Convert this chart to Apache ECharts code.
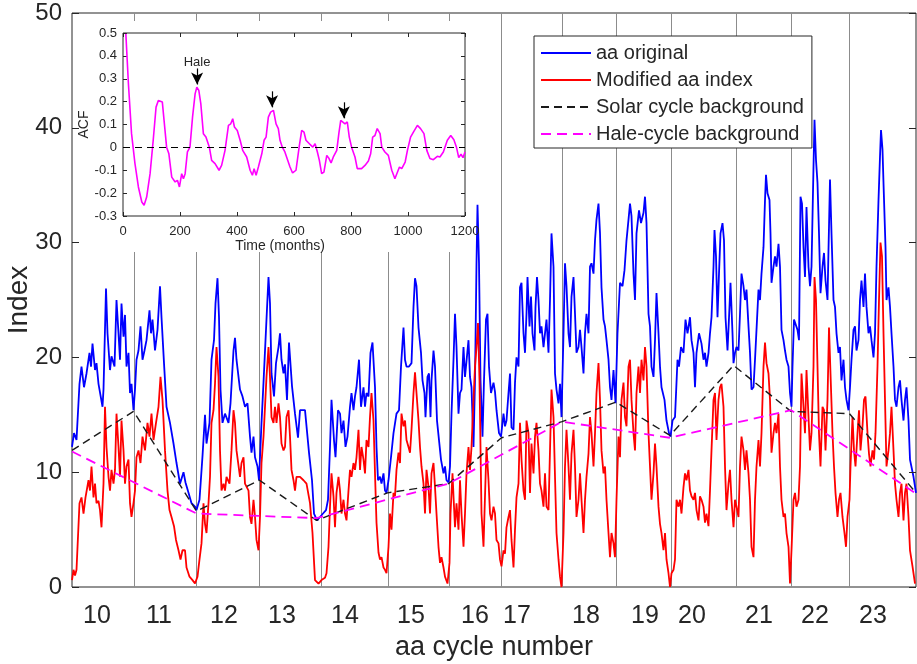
<!DOCTYPE html>
<html>
<head>
<meta charset="utf-8">
<script src="https://cdn.jsdelivr.net/npm/echarts@6.0.0/dist/echarts.min.js"></script>
<style>
  html, body { margin: 0; padding: 0; background: #fff; }
  #chart { width: 917px; height: 664px; }
</style>
</head>
<body>
<div id="chart"></div>
<script>
// x = months since the start of the record, y = index value
const aaOriginal = [[0,12.2],[4,13.4],[9,12.8],[15,17.7],[19,19.2],[24,17.4],[29,18.6],[35,20.4],[38,19.2],[41,21.2],[46,18.9],[49,19.5],[53,17.7],[57,17.7],[61,15.7],[63,17.2],[68,26.0],[71,22.1],[76,18.9],[79,20.1],[85,19.2],[89,25.0],[93,22.1],[96,19.8],[99,24.7],[103,21.8],[106,23.7],[109,19.2],[113,20.4],[116,16.9],[119,17.7],[123,15.4],[126,17.2],[129,19.8],[133,20.6],[137,22.7],[141,19.8],[145,20.6],[149,21.5],[155,24.1],[158,22.1],[161,23.3],[166,20.6],[171,22.4],[176,26.2],[179,23.5],[184,19.5],[189,15.7],[196,14.3],[203,12.5],[209,10.8],[216,9.0],[223,10.0],[227,9.1],[233,8.2],[239,7.3],[246,7.0],[249,6.7],[255,7.6],[261,11.4],[266,15.0],[269,12.5],[275,14.3],[279,19.8],[284,21.5],[287,24.7],[291,26.9],[294,23.5],[297,17.2],[301,14.3],[306,15.1],[313,14.3],[317,16.0],[323,20.6],[326,21.7],[329,19.8],[336,17.2],[341,16.6],[346,15.7],[351,16.0],[356,13.1],[359,11.7],[363,13.1],[366,11.3],[371,10.5],[374,9.3],[379,14.3],[383,17.8],[387,17.8],[393,27.0],[396,24.7],[399,18.6],[404,16.6],[408,19.5],[413,20.9],[416,22.1],[419,19.8],[423,18.6],[426,19.4],[430,16.3],[434,21.3],[440,17.5],[446,15.1],[452,13.0],[456,15.4],[466,15.4],[474,11.7],[480,9.3],[484,6.4],[490,5.8],[496,6.1],[502,6.4],[508,6.7],[512,7.6],[516,12.2],[519,16.3],[524,12.8],[527,11.3],[532,15.4],[536,15.1],[539,13.4],[543,14.5],[547,12.2],[551,13.1],[556,15.7],[559,16.9],[563,15.4],[566,16.6],[569,17.4],[574,19.8],[578,15.7],[583,17.4],[586,15.7],[589,16.9],[593,16.6],[597,20.4],[601,21.3],[606,17.4],[609,12.2],[612,9.3],[616,9.6],[619,9.0],[623,9.9],[626,8.4],[629,8.2],[633,9.3],[638,11.3],[643,13.4],[649,15.1],[654,15.4],[658,19.2],[663,22.6],[666,19.8],[669,19.2],[674,19.2],[679,19.5],[683,24.4],[686,26.9],[689,26.2],[693,22.6],[698,20.4],[701,18.0],[705,16.9],[707,14.8],[711,18.3],[714,18.6],[717,14.8],[719,18.0],[723,20.6],[726,19.2],[730,14.5],[734,12.8],[738,11.1],[743,9.9],[746,10.5],[749,9.3],[753,9.1],[756,10.5],[759,15.1],[763,19.8],[766,23.8],[769,20.9],[773,15.1],[776,16.9],[779,17.2],[783,20.9],[786,18.3],[789,18.3],[793,21.5],[796,18.3],[799,17.4],[803,12.2],[806,18.0],[809,28.2],[811,33.3],[814,28.2],[817,18.0],[821,13.1],[824,18.0],[828,23.3],[831,23.8],[834,19.2],[838,16.9],[843,17.8],[846,17.0],[849,15.4],[854,13.4],[858,13.1],[863,15.1],[866,14.0],[869,14.5],[873,16.9],[876,18.6],[879,13.9],[883,13.7],[886,17.8],[889,20.0],[893,19.2],[896,26.1],[899,26.5],[903,22.1],[906,20.4],[909,23.8],[911,27.0],[915,22.7],[918,25.3],[921,22.1],[925,20.6],[927,24.4],[930,27.0],[933,25.0],[936,22.1],[939,22.7],[943,20.9],[946,22.1],[949,23.3],[953,20.4],[956,25.0],[959,30.8],[963,27.9],[966,18.6],[969,17.2],[973,16.0],[976,17.7],[979,14.8],[983,22.1],[986,28.2],[989,26.2],[993,22.1],[996,20.9],[999,25.3],[1003,27.0],[1006,23.8],[1009,20.4],[1013,20.9],[1016,22.4],[1019,20.9],[1023,18.6],[1026,22.1],[1029,23.8],[1033,22.1],[1036,27.9],[1039,28.2],[1043,27.3],[1046,30.2],[1049,32.0],[1053,33.4],[1056,30.8],[1059,26.1],[1063,23.3],[1066,22.7],[1069,21.5],[1073,19.8],[1076,17.4],[1079,16.3],[1083,18.9],[1087,16.0],[1091,22.1],[1096,26.5],[1101,26.2],[1105,27.6],[1109,30.2],[1113,32.0],[1116,33.4],[1119,32.3],[1123,27.3],[1126,25.0],[1129,30.8],[1134,32.8],[1138,31.7],[1143,32.6],[1146,34.0],[1149,31.7],[1153,23.8],[1156,22.7],[1159,19.2],[1163,18.3],[1166,21.5],[1169,25.6],[1173,22.1],[1176,19.2],[1179,17.4],[1185,16.3],[1189,14.5],[1194,13.4],[1197,13.1],[1201,14.5],[1206,14.8],[1211,19.8],[1214,19.2],[1218,20.9],[1223,20.4],[1227,23.3],[1231,22.1],[1236,23.5],[1239,21.5],[1243,20.4],[1246,17.4],[1249,20.4],[1254,22.1],[1259,21.2],[1263,19.8],[1266,20.4],[1269,19.2],[1273,20.4],[1276,22.1],[1279,23.5],[1283,27.9],[1285,31.1],[1288,28.8],[1291,23.5],[1294,27.3],[1297,30.8],[1301,31.7],[1304,30.2],[1307,23.5],[1311,20.6],[1315,24.4],[1317,26.5],[1321,22.1],[1323,19.5],[1326,20.4],[1329,20.9],[1333,20.6],[1336,23.8],[1339,27.3],[1343,26.2],[1346,25.0],[1349,25.9],[1353,22.7],[1356,20.4],[1359,17.2],[1363,17.4],[1366,19.8],[1369,22.4],[1373,25.9],[1376,25.0],[1379,27.3],[1383,29.6],[1386,33.7],[1388,35.9],[1391,34.3],[1395,33.7],[1397,30.8],[1399,26.5],[1403,27.9],[1406,28.8],[1409,27.9],[1413,29.9],[1416,27.9],[1419,22.4],[1423,21.5],[1426,20.6],[1429,19.8],[1433,19.2],[1436,16.9],[1439,15.7],[1441,19.2],[1444,23.3],[1447,23.3],[1451,22.4],[1454,21.5],[1457,34.0],[1460,33.4],[1463,29.6],[1466,27.0],[1469,33.1],[1473,27.9],[1476,26.2],[1479,27.9],[1483,36.6],[1485,40.7],[1488,37.2],[1491,35.2],[1494,30.8],[1497,25.6],[1501,27.9],[1504,29.1],[1507,26.7],[1511,25.0],[1513,29.4],[1516,35.5],[1519,30.8],[1523,25.0],[1526,24.4],[1529,22.1],[1533,20.4],[1536,20.9],[1539,18.0],[1543,19.8],[1546,17.4],[1549,16.3],[1553,15.4],[1556,17.4],[1559,19.8],[1563,22.4],[1566,22.7],[1569,20.6],[1573,21.5],[1576,25.0],[1579,26.7],[1583,24.4],[1586,27.3],[1589,24.4],[1593,22.1],[1596,22.7],[1599,21.5],[1603,20.0],[1606,22.1],[1609,27.9],[1613,33.7],[1616,37.5],[1618,39.8],[1621,38.1],[1623,35.2],[1627,29.6],[1629,25.0],[1633,26.1],[1636,24.4],[1639,22.1],[1643,19.2],[1646,16.3],[1649,15.7],[1653,17.4],[1656,18.0],[1659,16.3],[1663,14.5],[1666,16.3],[1669,17.4],[1673,14.5],[1676,11.1],[1683,9.6],[1688,8.2]];

const modifiedAa = [[0,0.6],[3,1.5],[6,1.0],[9,1.5],[15,7.3],[19,7.8],[23,6.4],[27,7.8],[33,9.3],[36,8.4],[39,10.5],[43,7.8],[46,9.0],[49,7.3],[53,7.5],[56,6.7],[59,5.2],[63,9.0],[66,15.7],[69,12.2],[73,9.6],[76,8.4],[79,10.2],[83,9.0],[86,10.2],[89,15.1],[93,12.2],[96,9.6],[99,14.5],[103,11.9],[106,9.0],[109,10.5],[113,11.1],[116,7.3],[119,6.1],[123,7.3],[126,8.4],[129,11.3],[133,11.9],[137,10.8],[141,13.1],[146,11.9],[151,14.3],[155,13.1],[159,15.1],[163,12.8],[168,14.3],[173,15.7],[177,18.3],[181,16.3],[186,11.9],[191,8.4],[195,6.7],[199,6.1],[204,5.3],[208,4.1],[213,3.2],[217,2.4],[221,3.2],[226,3.2],[229,1.7],[235,0.9],[241,0.6],[246,0.3],[251,0.9],[255,2.4],[259,3.8],[263,7.3],[266,5.5],[269,4.7],[273,7.3],[276,9.6],[279,14.3],[283,15.4],[286,17.7],[289,20.9],[293,18.3],[296,11.9],[299,8.4],[303,9.0],[306,8.4],[309,9.6],[315,9.0],[319,11.9],[323,15.4],[326,14.3],[329,11.9],[333,11.9],[336,9.6],[339,10.8],[343,11.3],[346,9.0],[349,9.1],[353,8.4],[356,6.1],[359,5.5],[363,7.6],[366,6.1],[369,4.1],[373,3.2],[376,6.1],[379,10.8],[383,13.1],[389,18.3],[393,20.9],[396,18.3],[399,14.8],[403,14.3],[406,15.7],[409,14.3],[413,16.0],[416,14.8],[419,12.5],[423,11.9],[426,12.2],[429,14.8],[433,15.4],[436,13.1],[439,10.2],[443,9.3],[446,8.4],[449,9.6],[456,9.6],[463,9.3],[469,9.0],[476,7.3],[481,4.7],[486,0.6],[493,0.3],[499,0.6],[506,0.8],[509,1.2],[513,3.5],[516,7.0],[519,9.9],[523,7.9],[526,5.2],[529,8.2],[533,9.6],[536,8.4],[539,6.4],[543,7.6],[546,6.4],[549,5.8],[553,8.4],[556,10.2],[559,9.6],[563,10.8],[566,10.2],[569,11.3],[573,13.7],[576,10.2],[579,12.2],[583,11.1],[586,9.9],[589,12.8],[593,12.2],[596,14.8],[599,16.9],[603,14.5],[606,9.9],[609,5.6],[613,3.0],[616,2.4],[619,2.6],[623,1.7],[626,1.5],[629,1.2],[633,3.5],[636,6.4],[639,5.0],[643,8.2],[646,7.9],[649,10.2],[653,11.7],[656,10.8],[659,15.1],[663,14.0],[666,14.5],[669,12.8],[673,12.2],[676,11.7],[679,13.7],[683,16.9],[686,18.7],[689,16.9],[693,14.5],[696,12.2],[699,10.5],[703,9.0],[706,6.4],[709,10.2],[713,8.7],[716,6.4],[719,9.9],[723,10.8],[726,8.7],[729,6.4],[733,3.5],[736,2.1],[739,2.6],[743,1.7],[746,0.9],[751,0.3],[755,2.1],[757,6.4],[761,9.9],[763,7.9],[766,5.2],[769,7.3],[773,5.0],[776,9.3],[779,6.4],[783,3.5],[786,6.4],[789,9.9],[793,12.2],[796,10.2],[799,12.2],[803,16.3],[806,19.2],[809,20.9],[812,23.0],[815,18.0],[817,12.2],[819,6.4],[823,3.5],[826,7.9],[829,12.2],[833,9.3],[836,6.4],[839,5.8],[843,7.0],[846,6.4],[849,4.1],[853,3.8],[856,2.4],[859,1.8],[863,3.2],[866,2.9],[869,5.2],[873,6.1],[876,6.7],[879,4.1],[883,1.7],[886,5.0],[889,7.8],[893,9.0],[896,14.3],[899,11.1],[903,8.4],[906,7.6],[909,14.5],[913,13.4],[916,8.2],[919,12.5],[923,9.9],[926,13.1],[929,14.3],[933,11.9],[936,9.0],[939,8.4],[943,7.0],[946,9.9],[949,7.0],[953,6.7],[956,11.9],[959,17.2],[963,14.8],[966,9.6],[969,4.7],[973,2.4],[976,0.9],[979,0.0],[983,4.7],[986,10.5],[989,13.7],[993,10.5],[996,7.6],[999,11.6],[1003,13.7],[1006,10.5],[1009,6.1],[1013,7.6],[1016,9.9],[1019,7.6],[1023,4.7],[1026,7.6],[1029,9.6],[1033,11.6],[1036,14.8],[1039,13.4],[1043,10.5],[1046,13.4],[1049,16.9],[1053,19.5],[1056,16.3],[1059,11.9],[1063,9.9],[1066,10.5],[1069,7.6],[1073,4.7],[1076,2.6],[1079,4.7],[1083,3.8],[1086,2.6],[1089,7.6],[1093,13.1],[1096,11.3],[1099,16.3],[1103,17.8],[1106,14.8],[1109,14.0],[1113,19.2],[1116,19.8],[1119,16.3],[1123,13.4],[1126,11.9],[1129,16.9],[1133,19.2],[1136,16.9],[1139,19.8],[1143,18.0],[1146,20.9],[1149,19.2],[1153,13.4],[1156,10.5],[1159,7.6],[1163,9.9],[1166,12.5],[1169,10.5],[1173,7.0],[1176,5.5],[1179,4.7],[1183,3.2],[1186,4.7],[1189,2.4],[1193,1.2],[1196,0.0],[1199,1.2],[1203,1.5],[1206,2.4],[1209,7.6],[1213,7.0],[1216,7.6],[1219,6.4],[1223,8.7],[1226,9.9],[1229,9.3],[1233,10.2],[1236,8.4],[1239,7.9],[1243,7.6],[1246,8.2],[1249,6.7],[1253,5.8],[1256,7.9],[1259,7.6],[1263,7.0],[1266,5.6],[1269,6.4],[1273,5.3],[1276,8.4],[1279,11.9],[1283,16.3],[1286,16.9],[1289,12.8],[1293,16.3],[1296,17.4],[1299,17.7],[1303,15.7],[1306,10.5],[1309,6.7],[1313,9.0],[1316,10.2],[1319,7.6],[1323,5.2],[1326,7.6],[1329,7.0],[1333,6.1],[1336,10.5],[1339,13.1],[1343,11.9],[1346,10.2],[1349,11.9],[1353,9.9],[1356,7.6],[1359,3.5],[1363,2.6],[1366,7.6],[1369,10.5],[1373,12.8],[1376,10.5],[1379,13.4],[1383,19.2],[1386,21.3],[1389,19.5],[1393,18.6],[1396,16.3],[1399,11.7],[1403,13.4],[1406,14.3],[1409,13.4],[1413,15.1],[1416,10.5],[1419,7.6],[1423,6.1],[1426,6.4],[1429,4.7],[1433,3.5],[1436,0.3],[1439,3.2],[1443,7.6],[1446,8.2],[1449,7.0],[1453,7.6],[1456,10.5],[1459,18.6],[1463,15.7],[1466,13.4],[1469,18.9],[1473,14.8],[1476,11.9],[1479,13.4],[1483,19.2],[1485,27.0],[1488,25.0],[1491,19.2],[1494,13.4],[1497,10.5],[1501,15.7],[1504,15.4],[1507,11.9],[1511,16.3],[1514,22.6],[1517,18.6],[1521,13.4],[1524,10.5],[1527,8.2],[1531,6.1],[1534,7.6],[1537,8.2],[1541,6.1],[1545,4.7],[1548,3.5],[1551,6.1],[1555,7.6],[1557,10.5],[1561,14.8],[1564,11.9],[1567,10.5],[1571,13.4],[1574,15.4],[1577,11.9],[1581,14.0],[1584,16.3],[1587,16.6],[1591,13.4],[1594,11.6],[1597,10.5],[1601,11.9],[1604,11.1],[1607,13.4],[1611,19.2],[1614,25.0],[1617,30.0],[1620,28.8],[1623,22.1],[1626,16.3],[1629,10.5],[1633,11.9],[1636,13.4],[1639,15.7],[1643,11.9],[1646,9.0],[1649,7.6],[1653,6.1],[1656,8.2],[1659,9.0],[1663,5.8],[1666,8.2],[1669,9.0],[1673,6.1],[1676,3.2],[1681,1.8],[1686,0.3]];

const solarBackground = [[0,11.9],[123,15.3],[249,6.6],[375,9.3],[489,5.8],[631,8.2],[753,9.0],[859,13.0],[980,14.4],[1088,16.1],[1196,13.2],[1323,19.3],[1438,15.3],[1555,15.1],[1686,8.3]];
const haleBackground = [[0,11.8],[249,6.4],[489,6.0],[753,9.0],[980,14.4],[1196,13.0],[1438,15.4],[1686,8.2]];

const cycleNumbers = [10,11,12,13,14,15,16,17,18,19,20,21,22,23];
const cycleLabelMonths = [50,174,304,420,546,678,806,890,1028,1146,1240,1374,1486,1602];
const cycleBoundaryMonths = [124,248,374,498,632,754,858,980,1088,1198,1328,1438,1554];

// inset: autocorrelation of the modified index, lag in months
const acf = [[10,0.496],[19,0.278],[30,0.06],[42,-0.071],[54,-0.173],[66,-0.239],[74,-0.253],[83,-0.217],[95,-0.115],[106,0.031],[116,0.176],[124,0.205],[130,0.211],[138,0.198],[144,0.205],[153,0.001],[161,-0.028],[171,-0.13],[183,-0.151],[191,-0.144],[198,-0.173],[206,-0.115],[212,-0.137],[218,-0.115],[226,-0.02],[235,0.001],[244,0.132],[253,0.234],[259,0.263],[266,0.249],[273,0.191],[282,0.06],[291,0.045],[303,0.001],[311,-0.057],[323,-0.071],[337,-0.1],[346,-0.079],[358,-0.013],[370,0.096],[378,0.103],[385,0.125],[391,0.089],[401,0.074],[411,0.031],[420,-0.013],[434,-0.042],[446,-0.1],[454,-0.122],[460,-0.093],[467,-0.122],[475,-0.086],[487,-0.028],[495,0.031],[502,0.045],[510,0.132],[518,0.154],[528,0.162],[537,0.103],[545,0.082],[551,0.031],[559,0.001],[568,-0.02],[574,-0.013],[586,-0.086],[595,-0.112],[607,-0.1],[618,0.001],[627,0.074],[635,0.067],[642,0.031],[654,0.016],[666,0.001],[674,0.016],[682,-0.02],[689,-0.057],[697,-0.115],[705,-0.108],[715,-0.035],[723,-0.049],[730,-0.068],[738,-0.042],[750,-0.013],[758,0.067],[764,0.118],[771,0.125],[779,0.103],[787,0.111],[794,0.045],[802,0.001],[814,-0.042],[822,-0.093],[837,-0.093],[849,-0.079],[861,-0.06],[869,-0.028],[876,0.045],[884,0.052],[892,0.082],[902,0.06],[908,0.001],[919,-0.02],[931,-0.035],[943,-0.1],[954,-0.137],[960,-0.144],[970,-0.086],[978,-0.093],[990,-0.064],[998,-0.013],[1009,0.045],[1019,0.067],[1033,0.096],[1044,0.082],[1056,0.06],[1066,-0.013],[1077,-0.049],[1089,-0.054],[1103,-0.039],[1112,-0.042],[1124,-0.02],[1138,0.031],[1150,0.052],[1161,0.033],[1170,0.001],[1178,-0.045],[1186,-0.03],[1193,-0.045],[1200,-0.02]];

// arrows above the ACF peaks: [lag, tail, head]
const peakArrows = [[260,0.345,0.275],[523,0.245,0.175],[775,0.197,0.127]];
const haleLabel = [260, 0.37];

const FONT = '"Liberation Sans", Arial, Helvetica, sans-serif';
const INK = '#262626';

const chart = echarts.init(document.getElementById('chart'));

const zeroLine = [
  { coord: [0, 0], symbol: 'none', lineStyle: { color: '#000000', width: 1.2, type: [7, 5] } },
  { coord: [1200, 0], symbol: 'none' },
];

const option = {
  animation: false,
  textStyle: { fontFamily: FONT },
  graphic: [
    {
      // white background behind the inset
      type: 'rect',
      left: 73,
      top: 21,
      shape: { width: 397, height: 231 },
      style: { fill: '#ffffff' },
      z: 3,
      silent: true,
    },
  ],
  legend: {
    orient: 'vertical',
    left: 534,
    top: 36,
    padding: [7, 8, 4, 6],
    itemWidth: 50,
    itemHeight: 20,
    itemGap: 7,
    backgroundColor: '#ffffff',
    borderColor: INK,
    borderWidth: 1,
    itemStyle: { opacity: 0 },
    textStyle: { fontSize: 20, color: INK, fontFamily: FONT },
    data: ['aa original', 'Modified aa index', 'Solar cycle background', 'Hale-cycle background'],
  },
  grid: [
    { left: 72, top: 13, width: 844, height: 574, show: true, borderColor: INK, borderWidth: 1, outerBoundsMode: 'none', containLabel: false },
    { left: 123, top: 33, width: 342, height: 183, show: true, borderColor: INK, borderWidth: 1, backgroundColor: '#ffffff', z: 10, outerBoundsMode: 'none', containLabel: false },
  ],
  xAxis: [
    {
      type: 'value',
      gridIndex: 0,
      min: 0,
      max: 1688,
      axisLine: { show: false, onZero: false },
      axisTick: { show: false },
      splitLine: { show: false },
      axisLabel: {
        customValues: cycleLabelMonths,
        formatter: (v) => String(cycleNumbers[cycleLabelMonths.indexOf(v)]),
        fontSize: 25,
        color: INK,
        margin: 17,
      },
      name: 'aa cycle number',
      nameLocation: 'middle',
      nameGap: 46,
      nameTextStyle: { fontSize: 27, color: INK },
    },
    {
      type: 'value',
      gridIndex: 1,
      min: 0,
      max: 1200,
      interval: 200,
      axisLine: { show: false, onZero: false },
      axisTick: { inside: true, length: 4, lineStyle: { color: INK } },
      splitLine: { show: false },
      axisLabel: { fontSize: 13, color: INK, margin: 9, formatter: (v) => String(v) },
      name: 'Time (months)',
      nameLocation: 'middle',
      nameGap: 23,
      nameTextStyle: { fontSize: 14, color: INK, padding: [0, 28, 0, 0] },
      z: 11,
    },
    {
      type: 'value',
      gridIndex: 1,
      position: 'top',
      min: 0,
      max: 1200,
      interval: 200,
      axisLine: { show: false, onZero: false },
      axisTick: { inside: true, length: 4, lineStyle: { color: INK } },
      axisLabel: { show: false },
      splitLine: { show: false },
      z: 11,
    },
  ],
  yAxis: [
    {
      type: 'value',
      gridIndex: 0,
      min: 0,
      max: 50,
      interval: 10,
      axisLine: { show: false, onZero: false },
      axisTick: { inside: true, length: 7, lineStyle: { color: INK } },
      splitLine: { show: false },
      axisLabel: { fontSize: 24, color: INK, margin: 10 },
      name: 'Index',
      nameLocation: 'middle',
      nameGap: 39,
      nameMoveOverlap: false,
      nameTextStyle: { fontSize: 28, color: INK },
      z: 4,
    },
    {
      type: 'value',
      gridIndex: 0,
      position: 'right',
      min: 0,
      max: 50,
      interval: 10,
      axisLine: { show: false, onZero: false },
      axisTick: { inside: true, length: 7, lineStyle: { color: INK } },
      axisLabel: { show: false },
      splitLine: { show: false },
      z: 4,
    },
    {
      type: 'value',
      gridIndex: 1,
      min: -0.3,
      max: 0.5,
      interval: 0.1,
      axisLine: { show: false, onZero: false },
      axisTick: { inside: true, length: 4, lineStyle: { color: INK } },
      splitLine: { show: false },
      axisLabel: { fontSize: 13, color: INK, margin: 6 },
      name: 'ACF',
      nameLocation: 'middle',
      nameGap: 27,
      nameTextStyle: { fontSize: 14, color: INK },
      z: 11,
    },
    {
      type: 'value',
      gridIndex: 1,
      position: 'right',
      min: -0.3,
      max: 0.5,
      interval: 0.1,
      axisLine: { show: false, onZero: false },
      axisTick: { inside: true, length: 4, lineStyle: { color: INK } },
      axisLabel: { show: false },
      splitLine: { show: false },
      z: 11,
    },
  ],
  series: [
    {
      // cycle boundaries
      type: 'line',
      xAxisIndex: 0,
      yAxisIndex: 0,
      data: [],
      z: 1,
      silent: true,
      markLine: {
        silent: true,
        z: 1,
        symbol: ['none', 'none'],
        label: { show: false },
        lineStyle: { color: '#8c8c8c', width: 1, type: 'solid' },
        data: cycleBoundaryMonths.map((m) => ({ xAxis: m })),
      },
    },
    {
      name: 'aa original',
      type: 'line',
      xAxisIndex: 0,
      yAxisIndex: 0,
      data: aaOriginal,
      showSymbol: false,
      symbol: 'none',
      lineStyle: { color: '#0000ff', width: 1.8 },
      itemStyle: { color: '#0000ff' },
      z: 2,
    },
    {
      name: 'Modified aa index',
      type: 'line',
      xAxisIndex: 0,
      yAxisIndex: 0,
      data: modifiedAa,
      showSymbol: false,
      symbol: 'none',
      lineStyle: { color: '#ff0000', width: 1.8 },
      itemStyle: { color: '#ff0000' },
      z: 2,
    },
    {
      name: 'Solar cycle background',
      type: 'line',
      xAxisIndex: 0,
      yAxisIndex: 0,
      data: solarBackground,
      showSymbol: false,
      symbol: 'none',
      lineStyle: { color: '#1a1a1a', width: 1.4, type: [8, 5] },
      itemStyle: { color: '#1a1a1a' },
      z: 2,
    },
    {
      name: 'Hale-cycle background',
      type: 'line',
      xAxisIndex: 0,
      yAxisIndex: 0,
      data: haleBackground,
      showSymbol: false,
      symbol: 'none',
      lineStyle: { color: '#ff00ff', width: 1.8, type: [10, 6] },
      itemStyle: { color: '#ff00ff' },
      z: 2,
    },
    {
      name: 'ACF',
      type: 'line',
      xAxisIndex: 1,
      yAxisIndex: 2,
      data: acf,
      showSymbol: false,
      symbol: 'none',
      lineStyle: { color: '#ff00ff', width: 1.6 },
      itemStyle: { color: '#ff00ff' },
      z: 12,
      markLine: {
        silent: true,
        z: 13,
        symbol: ['none', 'arrow'],
        symbolSize: [9, 12],
        label: { show: false },
        lineStyle: { color: '#000000', width: 1.2, type: 'solid' },
        data: [
          zeroLine,
          ...peakArrows.map((a) => [{ coord: [a[0], a[1]] }, { coord: [a[0], a[2]] }]),
        ],
      },
      markPoint: {
        silent: true,
        z: 13,
        symbol: 'circle',
        symbolSize: 0,
        label: { show: true, formatter: 'Hale', color: INK, fontSize: 13, position: 'inside' },
        data: [{ coord: haleLabel }],
      },
    },
  ],
};

chart.setOption(option);
window.addEventListener('resize', () => chart.resize());
</script>
</body>
</html>
